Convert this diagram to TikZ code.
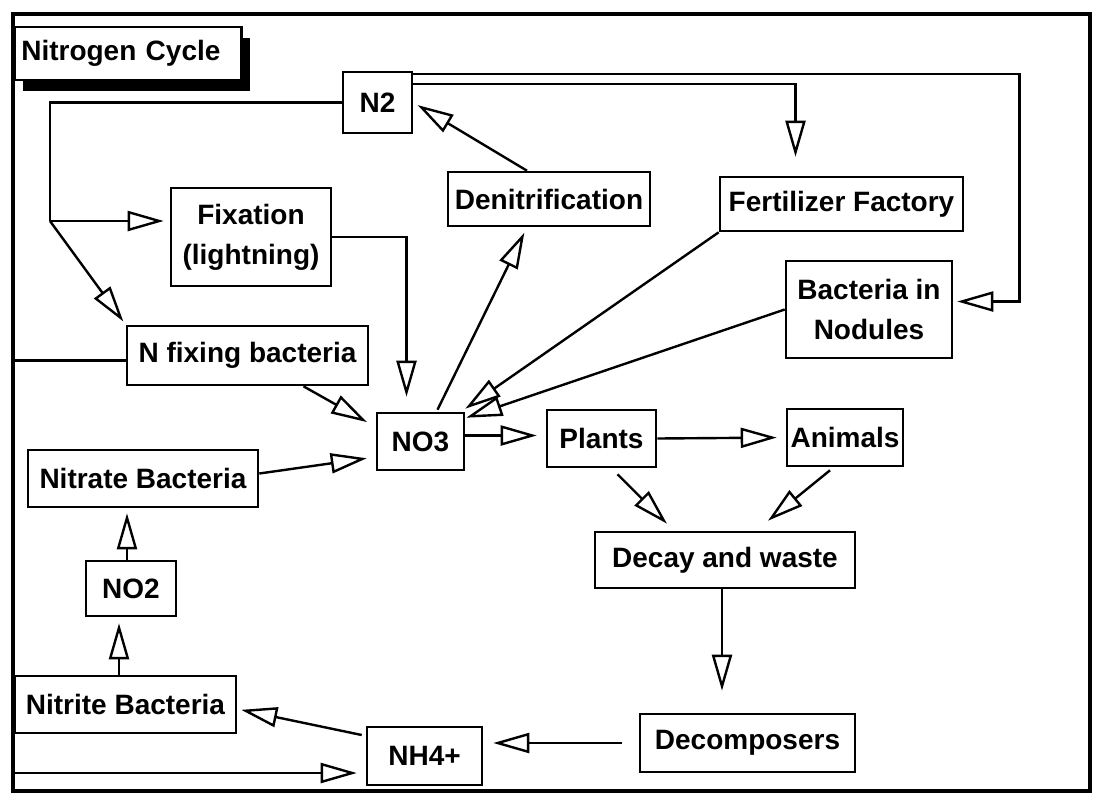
\documentclass[tikz,border=0pt]{standalone}
\usepackage{fontspec}
\setmainfont{Liberation Sans}
\usepackage{tikz}
\usetikzlibrary{arrows.meta, calc, shadows}

\begin{document}
\begin{tikzpicture}[
    x=0.5pt, y=-0.5pt,
    box/.style={rectangle, draw, line width=1.3pt, inner sep=0pt, align=center, font=\fontsize{14}{20}\selectfont\bfseries},
    link/.style={line width=1.2pt},
    arrow/.style={line width=1.2pt, -{Triangle[open, length=18pt, width=10pt]}}
]
\useasboundingbox (0,0) rectangle (1098,794);

% Frame
\coordinate (fr-nw) at (13,14);
\coordinate (fr-se) at (1090,791);
\draw[line width=1.6pt] (fr-nw) rectangle (fr-se);

% Title
\node[box, fill=white, anchor=west, text width=106.5pt, inner xsep=3.5pt, minimum height=26.5pt, align=left,
      drop shadow={shadow xshift=4.5pt, shadow yshift=-5.5pt, fill=black, opacity=1}] (title) at (13,53.5) {Nitrogen Cycle};

% Upper part
\node[box, minimum width=34.5pt, minimum height=30.5pt] (n2) at (377.5,102.5) {N2};
\node[box, minimum width=80pt, minimum height=49pt] (fix) at (251,237) {Fixation\\(lightning)};
\node[box, minimum width=101pt, minimum height=27pt] (denit) at (549,199) {Denitrification};
\node[box, minimum width=121.5pt, minimum height=27pt] (fert) at (841.5,204) {Fertilizer Factory};
\node[box, minimum width=83pt, minimum height=48.5pt] (nod) at (869,309.5) {Bacteria in\\Nodules};
\node[box, minimum width=120.5pt, minimum height=29.5pt] (nfix) at (247.5,355.5) {N fixing bacteria};

% Middle row
\node[box, minimum width=43.5pt, minimum height=28.5pt] (no3) at (420.5,441.5) {NO3};
\node[box, minimum width=54.5pt, minimum height=28.5pt] (plants) at (601.5,438.5) {Plants};
\node[box, minimum width=58pt, minimum height=28.5pt] (animals) at (845,437.5) {Animals};
\node[box, minimum width=115pt, minimum height=28.5pt] (nitrate) at (143,478.5) {Nitrate Bacteria};
\node[box, minimum width=130pt, minimum height=28pt] (decay) at (725,560) {Decay and waste};

% Lower part
\node[box, minimum width=45pt, minimum height=27.5pt] (no2) at (131,588.5) {NO2};
\node[box, minimum width=110.5pt, minimum height=28.5pt] (nitrite) at (125.5,704.5) {Nitrite Bacteria};
\node[box, minimum width=57.5pt, minimum height=29pt] (nh4) at (424.5,756) {NH4+};
\node[box, minimum width=107.5pt, minimum height=29pt] (decomp) at (747.5,743) {Decomposers};

% From N2
\coordinate (split) at (50,221);
\draw[link] (n2.west) -| (split);
\draw[arrow, shorten >=3pt] (split) -- (split -| fix.west);
\draw[arrow, shorten >=2pt] (split) -- (nfix.north west);
\draw[arrow, shorten >=9.5pt] ($(n2.north east)+(0,13)$) -| ($(fert.north)+(-46,0)$);
\draw[arrow, shorten >=2pt] ($(n2.north east)+(0,3)$) -- ++(606,0) |- ($(nod.east)+(0,-8)$);

% Into NO3
\draw[arrow, shorten >=7.5pt] (fix.east) -| ($(no3.north)+(-14,0)$);
\draw[arrow, shorten >=5pt] ($(nfix.south)+(56,0)$) -- ($(no3.west)+(0,-14.5)$);
\draw[arrow, shorten >=4.5pt] ($(nitrate.east)+(0,-5)$) -- ($(no3.west)+(0,15.5)$);
\draw[arrow] (fert.south west) -- ($(no3.north east)+(0,-3)$);
\draw[arrow] (nod.west) -- ($(no3.north east)+(1,6)$);

% Out of NO3
\draw[arrow, shorten >=3pt] ($(no3.north)+(17,-2)$) -- ($(denit.south)+(-22,0)$);
\draw[arrow, shorten >=2.5pt] ($(denit.north)+(-22,0)$) -- (n2.east);
\draw[arrow, shorten >=4.5pt] ($(no3.east)+(0,-6)$) -- ($(plants.west)+(0,-3)$);
\draw[arrow, shorten >=4.5pt] (plants.east) -- (animals.west);

% Decay
\draw[arrow] ($(plants.south)+(16,6)$) -- ($(decay.north)+(-58,-7)$);
\draw[arrow] ($(animals.south)+(-15,3)$) -- ($(decay.north)+(43,-10)$);
\draw[arrow, shorten >=11pt] ($(decay.south)+(-3,0)$) -- ($(decomp.north)+(-25.5,0)$);
\draw[arrow, shorten >=5pt] ($(decomp.west)+(-17,0)$) -- (decomp.west -| nh4.east);

% Nitrification
\draw[arrow, shorten >=2pt] ($(nh4.west)+(-4,-21)$) -- ($(nitrite.east)+(0,4.5)$);
\draw[arrow, shorten >=3pt] ($(nitrite.north)+(-6.5,0)$) -- ($(no2.south)+(-12,0)$);
\draw[arrow, shorten >=2.5pt] ($(no2.north)+(-4,0)$) -- ($(nitrate.south)+(-16,0)$);

% From the frame
\coordinate (nfixin) at ($(nfix.west)+(0,5)$);
\coordinate (nh4in) at ($(nh4.west)+(0,17)$);
\draw[link] (nfixin -| fr-nw) -- (nfixin);
\draw[arrow, shorten >=4.5pt] (nh4in -| fr-nw) -- (nh4in);

\end{tikzpicture}
\end{document}
